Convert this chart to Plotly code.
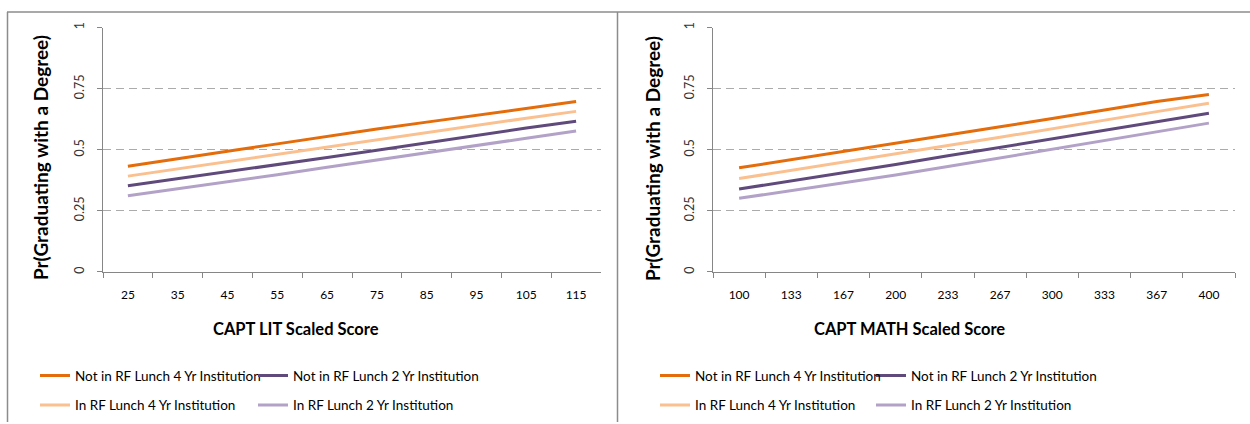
import plotly.graph_objects as go

W, H = 1250, 424

lit_scores = ["25", "35", "45", "55", "65", "75", "85", "95", "105", "115"]
math_scores = ["100", "133", "167", "200", "233", "267", "300", "333", "367", "400"]

series_names = [
    "Not in RF Lunch 4 Yr Institution",
    "In RF Lunch 4 Yr Institution",
    "Not in RF Lunch 2 Yr Institution",
    "In RF Lunch 2 Yr Institution",
]
series_colors = ["#E46C0A", "#FAC090", "#604A7B", "#B3A2C7"]

lit_not_rf_4yr = [0.432, 0.464, 0.494, 0.524, 0.555, 0.585, 0.613, 0.641, 0.670, 0.697]
lit_in_rf_4yr = [0.392, 0.422, 0.452, 0.482, 0.512, 0.542, 0.571, 0.600, 0.629, 0.657]
lit_not_rf_2yr = [0.353, 0.381, 0.409, 0.438, 0.468, 0.498, 0.529, 0.560, 0.589, 0.617]
lit_in_rf_2yr = [0.312, 0.340, 0.368, 0.398, 0.428, 0.457, 0.487, 0.517, 0.547, 0.577]

math_not_rf_4yr = [0.426, 0.459, 0.492, 0.526, 0.560, 0.594, 0.628, 0.663, 0.697, 0.726]
math_in_rf_4yr = [0.382, 0.415, 0.449, 0.483, 0.517, 0.551, 0.585, 0.620, 0.656, 0.690]
math_not_rf_2yr = [0.339, 0.372, 0.406, 0.440, 0.475, 0.510, 0.545, 0.580, 0.615, 0.649]
math_in_rf_2yr = [0.301, 0.332, 0.364, 0.397, 0.431, 0.466, 0.502, 0.538, 0.574, 0.609]

y_tick_vals = [0, 0.25, 0.5, 0.75, 1]
y_tick_text = ["0", "0.25", "0.5", "0.75", "1"]

FONT = "Lato"
AXIS_GRAY = "#868686"
GRID_GRAY = "#ABABAB"

def px_x(p):
    return p / W

def px_y(p):
    return 1 - p / H

fig = go.Figure()

lit_series = [lit_not_rf_4yr, lit_in_rf_4yr, lit_not_rf_2yr, lit_in_rf_2yr]
math_series = [math_not_rf_4yr, math_in_rf_4yr, math_not_rf_2yr, math_in_rf_2yr]
legend_ids_left = ["legend", "legend", "legend2", "legend2"]
legend_ids_right = ["legend3", "legend3", "legend4", "legend4"]

order = [3, 2, 1, 0]
for i in order:
    fig.add_trace(go.Scatter(
        x=lit_scores, y=lit_series[i], mode="lines", name=series_names[i],
        line=dict(color=series_colors[i], width=3),
        xaxis="x", yaxis="y", legend=legend_ids_left[i],
        legendgroup="L" + str(i), legendrank=i, hoverinfo="skip",
    ))
for i in order:
    fig.add_trace(go.Scatter(
        x=math_scores, y=math_series[i], mode="lines", name=series_names[i],
        line=dict(color=series_colors[i], width=3),
        xaxis="x2", yaxis="y2", legend=legend_ids_right[i],
        legendgroup="R" + str(i), legendrank=i, hoverinfo="skip",
    ))

y_domain = [px_y(271), px_y(22)]

xaxis_common = dict(
    type="category", showline=True, linecolor=AXIS_GRAY, linewidth=1,
    ticks="outside", ticklen=5, tickcolor=AXIS_GRAY, tickson="boundaries",
    showgrid=False, zeroline=False, range=[-0.5, 9.5],
    tickfont=dict(family=FONT, size=12, color="#000000"),
    ticklabelstandoff=12, fixedrange=True,
)
yaxis_common = dict(
    range=[0, 1], tickvals=y_tick_vals, ticktext=y_tick_text,
    showline=True, linecolor=AXIS_GRAY, linewidth=1,
    ticks="outside", ticklen=5, tickcolor=AXIS_GRAY,
    showgrid=True, gridcolor=GRID_GRAY, griddash="8px,5px", gridwidth=1,
    zeroline=False, tickangle=-90,
    tickfont=dict(family=FONT, size=12.5, color="#333333"),
    ticklabelstandoff=8, fixedrange=True,
)

legend_common = dict(
    orientation="v", xref="paper", yref="paper", xanchor="left", yanchor="top",
    bgcolor="rgba(0,0,0,0)", borderwidth=0, tracegroupgap=9,
    font=dict(family=FONT, size=13.5, color="#000000"), itemwidth=30,
)

fig.update_layout(
    width=W, height=H,
    margin=dict(l=0, r=0, t=0, b=0),
    paper_bgcolor="#FFFFFF", plot_bgcolor="#FFFFFF",
    showlegend=True,
    xaxis=dict(domain=[px_x(103), px_x(601)], anchor="y", **xaxis_common),
    yaxis=dict(domain=y_domain, anchor="x", **yaxis_common),
    xaxis2=dict(domain=[px_x(713), px_x(1235)], anchor="y2", **xaxis_common),
    yaxis2=dict(domain=y_domain, anchor="x2", **yaxis_common),
    legend=dict(x=px_x(35), y=px_y(361), **legend_common),
    legend2=dict(x=px_x(253), y=px_y(361), **legend_common),
    legend3=dict(x=px_x(655), y=px_y(361), **legend_common),
    legend4=dict(x=px_x(871), y=px_y(361), **legend_common),
)

xtitle_font = dict(family=FONT, size=16.5, color="#000000")
ytitle_font = dict(family=FONT, size=19, color="#000000")
fig.add_annotation(text="<b>CAPT LIT Scaled Score</b>", xref="paper", yref="paper",
                   x=px_x(296), y=px_y(329), showarrow=False, font=xtitle_font,
                   xanchor="center", yanchor="middle")
fig.add_annotation(text="<b>CAPT MATH Scaled Score</b>", xref="paper", yref="paper",
                   x=px_x(909), y=px_y(329), showarrow=False, font=xtitle_font,
                   xanchor="center", yanchor="middle")
for xc in (40, 652):
    fig.add_annotation(text="<b>Pr(Graduating with a Degree)</b>", xref="paper", yref="paper",
                       x=px_x(xc), y=px_y(155), showarrow=False, font=ytitle_font,
                       textangle=-90, xanchor="center", yanchor="middle")

border = dict(color="#8C8C8C", width=1.5)
fig.add_shape(type="line", xref="paper", yref="paper", x0=px_x(7), x1=1, y0=px_y(6), y1=px_y(6), line=border)
fig.add_shape(type="line", xref="paper", yref="paper", x0=px_x(7.5), x1=px_x(7.5), y0=0, y1=px_y(6), line=border)
fig.add_shape(type="line", xref="paper", yref="paper", x0=px_x(617.5), x1=px_x(617.5), y0=0, y1=px_y(6), line=border)

fig.write_html("out.html", config={"displayModeBar": False},
               post_script="document.body.style.margin='0';document.body.style.overflow='hidden';")
